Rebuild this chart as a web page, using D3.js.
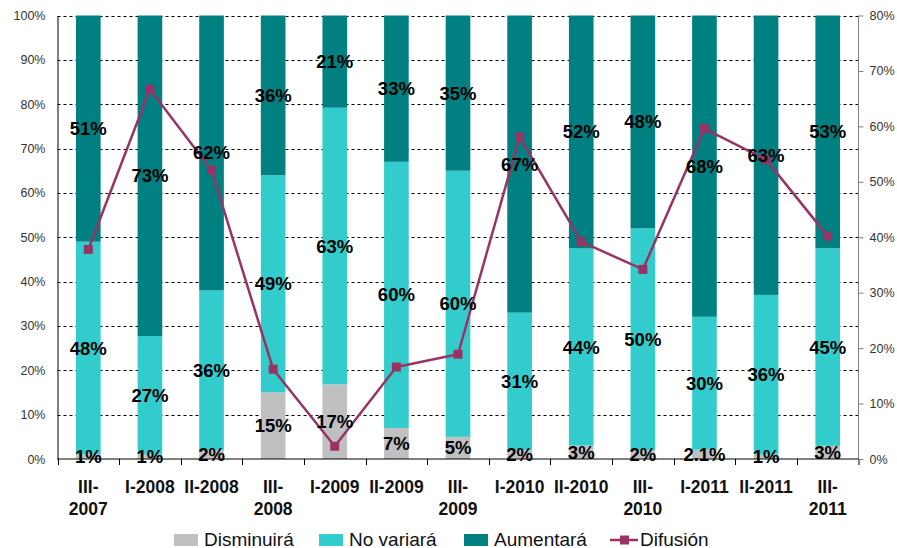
<!DOCTYPE html>
<html>
<head>
<meta charset="utf-8">
<script src="https://cdn.jsdelivr.net/npm/d3@7"></script>
<style>
  html, body { margin: 0; padding: 0; background: #fff; }
  svg { display: block; font-family: Arial, "Liberation Sans", sans-serif; }
</style>
</head>
<body>
<svg id="chart" width="897" height="548"></svg>
<script>
// Quarterly survey: share of answers per category (%) and diffusion index (%)
const categories = ["III-2007", "I-2008", "II-2008", "III-2008", "I-2009", "II-2009", "III-2009",
                    "I-2010", "II-2010", "III-2010", "I-2011", "II-2011", "III-2011"];
const disminuira = [1, 1, 2, 15, 17, 7, 5, 2, 3, 2, 2.1, 1, 3];
const noVariara  = [48, 27, 36, 49, 63, 60, 60, 31, 44, 50, 30, 36, 45];
const aumentara  = [51, 73, 62, 36, 21, 33, 35, 67, 52, 48, 68, 63, 53];
const difusion   = [37.8, 66.7, 52.1, 16.2, 2.3, 16.6, 18.9, 58.1, 39.2, 34.2, 59.6, 54.0, 40.2];

const leftTicks  = [0, 10, 20, 30, 40, 50, 60, 70, 80, 90, 100];
const rightTicks = [0, 10, 20, 30, 40, 50, 60, 70, 80];

const seriesKeys = ["Disminuirá", "No variará", "Aumentará"];
const seriesColors = { "Disminuirá": "#c0c0c0", "No variará": "#33cccc", "Aumentará": "#008080" };
const lineColor = "#993366";

const rows = categories.map((c, i) => ({
  cat: c,
  "Disminuirá": disminuira[i],
  "No variará": noVariara[i],
  "Aumentará": aumentara[i],
  dif: difusion[i]
}));

const svg = d3.select("#chart");
const plot = { left: 57.5, right: 858.5, top: 15.5, bottom: 459 };

const x = d3.scaleBand().domain(categories).range([plot.left, plot.right]).padding(0);
const barW = x.bandwidth() * 0.4;
const yL = d3.scaleLinear().domain([0, 100]).range([plot.bottom, plot.top]);
const yR = d3.scaleLinear().domain([0, 80]).range([plot.bottom, plot.top]);

// Dashed horizontal gridlines
svg.append("g")
  .selectAll("line")
  .data(leftTicks.filter(t => t > 0))
  .join("line")
  .attr("x1", plot.left).attr("x2", plot.right)
  .attr("y1", d => Math.round(yL(d)) + 0.5).attr("y2", d => Math.round(yL(d)) + 0.5)
  .attr("stroke", "#000").attr("stroke-width", 1).attr("stroke-dasharray", "3,3");

// 100% stacked bars
const stacked = d3.stack().keys(seriesKeys).offset(d3.stackOffsetExpand)(rows);

const gBars = svg.append("g");
stacked.forEach(layer => {
  gBars.append("g")
    .attr("fill", seriesColors[layer.key])
    .selectAll("rect")
    .data(layer)
    .join("rect")
    .attr("x", d => x(d.data.cat) + (x.bandwidth() - barW) / 2)
    .attr("width", barW)
    .attr("y", d => yL(d[1] * 100))
    .attr("height", d => yL(d[0] * 100) - yL(d[1] * 100));
});

// Left axis
const axisL = d3.axisLeft(yL).tickValues(leftTicks).tickSize(0).tickPadding(12)
  .tickFormat(d => d + "%");
const gL = svg.append("g").attr("transform", `translate(${plot.left},0)`).call(axisL);
gL.select(".domain").attr("stroke", "#000");
gL.selectAll("text").attr("font-size", 12.5).attr("fill", "#333")
  .attr("font-family", "Arial, 'Liberation Sans', sans-serif");

// Right axis
const axisR = d3.axisRight(yR).tickValues(rightTicks).tickSize(5).tickPadding(6)
  .tickFormat(d => d + "%");
const gR = svg.append("g").attr("transform", `translate(${plot.right},0)`).call(axisR);
gR.select(".domain").attr("stroke", "#808080");
gR.selectAll(".tick line").attr("stroke", "#808080");
gR.selectAll("text").attr("font-size", 12.5).attr("fill", "#333")
  .attr("font-family", "Arial, 'Liberation Sans', sans-serif");
gR.select(".domain").attr("d", `M0,${plot.top}V${plot.bottom + 6}`);

// Bottom axis with tick marks at category boundaries
svg.append("line")
  .attr("x1", plot.left).attr("x2", plot.right)
  .attr("y1", plot.bottom).attr("y2", plot.bottom)
  .attr("stroke", "#000");
const boundaries = categories.map(c => x(c)).concat([plot.right]);
svg.append("g").selectAll("line")
  .data(boundaries)
  .join("line")
  .attr("x1", d => Math.round(d) + 0.5).attr("x2", d => Math.round(d) + 0.5)
  .attr("y1", plot.bottom).attr("y2", plot.bottom + 6)
  .attr("stroke", (d, i) => i === boundaries.length - 1 ? "#808080" : "#000");

// Category labels (long ones wrap after the hyphen)
const gX = svg.append("g");
categories.forEach(c => {
  const cx = x(c) + x.bandwidth() / 2;
  const lines = c.length > 7 ? [c.slice(0, c.indexOf("-") + 1), c.slice(c.indexOf("-") + 1)] : [c];
  const t = gX.append("text")
    .attr("x", cx).attr("y", 493)
    .attr("text-anchor", "middle")
    .attr("font-size", 17.5).attr("font-weight", "bold").attr("fill", "#111");
  lines.forEach((l, i) => {
    t.append("tspan").attr("x", cx).attr("dy", i === 0 ? 0 : 21.5).text(l);
  });
});

// Diffusion line on the secondary axis
const line = d3.line()
  .x(d => x(d.cat) + x.bandwidth() / 2)
  .y(d => yR(d.dif));
svg.append("path")
  .datum(rows)
  .attr("d", line)
  .attr("fill", "none")
  .attr("stroke", lineColor)
  .attr("stroke-width", 2.5)
  .attr("stroke-linejoin", "round");
svg.append("g").selectAll("rect")
  .data(rows)
  .join("rect")
  .attr("x", d => x(d.cat) + x.bandwidth() / 2 - 4.5)
  .attr("y", d => yR(d.dif) - 4.5)
  .attr("width", 9).attr("height", 9)
  .attr("fill", lineColor);

// Data labels centred in each segment
const fmt = v => v + "%";
const gLab = svg.append("g");
stacked.forEach(layer => {
  gLab.append("g")
    .selectAll("text")
    .data(layer)
    .join("text")
    .attr("x", d => x(d.data.cat) + x.bandwidth() / 2)
    .attr("y", d => (yL(d[0] * 100) + yL(d[1] * 100)) / 2 + 6.5)
    .attr("text-anchor", "middle")
    .attr("font-size", 18.5).attr("font-weight", "bold").attr("fill", "#000")
    .text(d => fmt(d.data[layer.key]));
});

// Legend
const legend = svg.append("g").attr("font-size", 19).attr("fill", "#111");
const legendItems = [
  { label: "Disminuirá", type: "rect", color: seriesColors["Disminuirá"], x: 174 },
  { label: "No variará", type: "rect", color: seriesColors["No variará"], x: 319 },
  { label: "Aumentará", type: "rect", color: seriesColors["Aumentará"], x: 464 },
  { label: "Difusión", type: "line", color: lineColor, x: 610 }
];
legendItems.forEach(it => {
  if (it.type === "rect") {
    legend.append("rect").attr("x", it.x).attr("y", 534).attr("width", 24).attr("height", 12)
      .attr("fill", it.color);
  } else {
    legend.append("line").attr("x1", it.x).attr("x2", it.x + 28).attr("y1", 540).attr("y2", 540)
      .attr("stroke", it.color).attr("stroke-width", 2.5);
    legend.append("rect").attr("x", it.x + 10).attr("y", 535.5).attr("width", 9).attr("height", 9)
      .attr("fill", it.color);
  }
  legend.append("text").attr("x", it.x + 30).attr("y", 545.5).text(it.label);
});
</script>
</body>
</html>
